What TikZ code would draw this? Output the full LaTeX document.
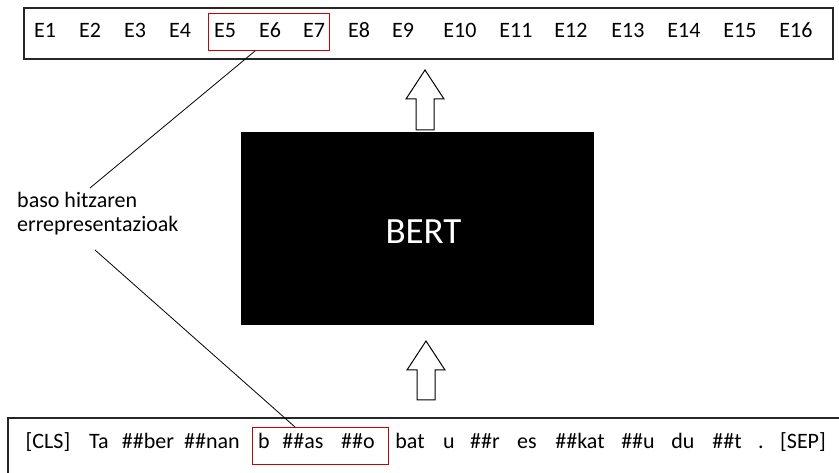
\documentclass[tikz,border=0pt]{standalone}
\usepackage{fontspec}
\setmainfont{Carlito}
\begin{document}
\begin{tikzpicture}[x=1pt,y=-1pt,
  tok/.style={inner sep=0pt,anchor=base,font=\fontsize{22}{26}\selectfont,text=black},
  box/.style={draw=black!85,line width=1.2pt},
  redbox/.style={draw=red!80!black,line width=1pt},
  conn/.style={draw=black,line width=0.8pt},
  bigarrow/.style={draw=black,line width=1pt,fill=white,line join=miter}]
\useasboundingbox (0,0) rectangle (839,473);
\clip (0,0) rectangle (839,473);
% top box
\draw[box] (24,8) rectangle (833,59);
\draw[redbox] (208,14) rectangle (329,51);
\foreach \x/\t [count=\i] in {45/E1,90/E2,135/E3,180/E4,225/E5,270/E6,314/E7,359/E8,403/E9,460/E10,516/E11,571/E12,628/E13,684/E14,740/E15,796/E16}
  \node[tok] (e\i) at (\x,37.5) {\t};
% BERT
\node[fill=black,minimum width=353pt,minimum height=193pt,inner sep=0pt] (bert) at (417.5,228.5) {};
\node[inner sep=0pt,text=white,font=\fontsize{37}{42}\selectfont] (bertlabel) at (423.5,232) {BERT};
% arrows
\draw[bigarrow] (425,70) -- (444,99) -- (434,99) -- (434,130) -- (416,130) -- (416,99) -- (406,99) -- cycle;
\draw[bigarrow] (426,341) -- (445,370) -- (435,370) -- (435,400) -- (417,400) -- (417,370) -- (407,370) -- cycle;
% bottom box
\draw[box] (8,480) -- (8,418) -- (850,418);
\draw[redbox] (252,427) rectangle (388,464);
\foreach \x/\t [count=\i] in {48/{[CLS]},99/Ta,148/\#\#ber,212/\#\#nan,264/b,303/\#\#as,358/\#\#o,410/bat,449/u,485/\#\#r,527/es,580/\#\#kat,638/\#\#u,683/du,727/\#\#t,761/.,803/{[SEP]}}
  \node[tok] (t\i) at (\x,448.5) {\t};
% label
\node[inner sep=0pt,anchor=north west,align=left,font=\fontsize{22}{24}\selectfont] (lbl) at (17,192) {baso hitzaren\\errepresentazioak};
% connectors
\coordinate (topend) at (255,51);
\coordinate (lblup) at (90,188);
\coordinate (lbldown) at (95,250);
\coordinate (botend) at (295,427);
\draw[conn] (topend) -- (lblup);
\draw[conn] (lbldown) -- (botend);
\end{tikzpicture}
\end{document}
